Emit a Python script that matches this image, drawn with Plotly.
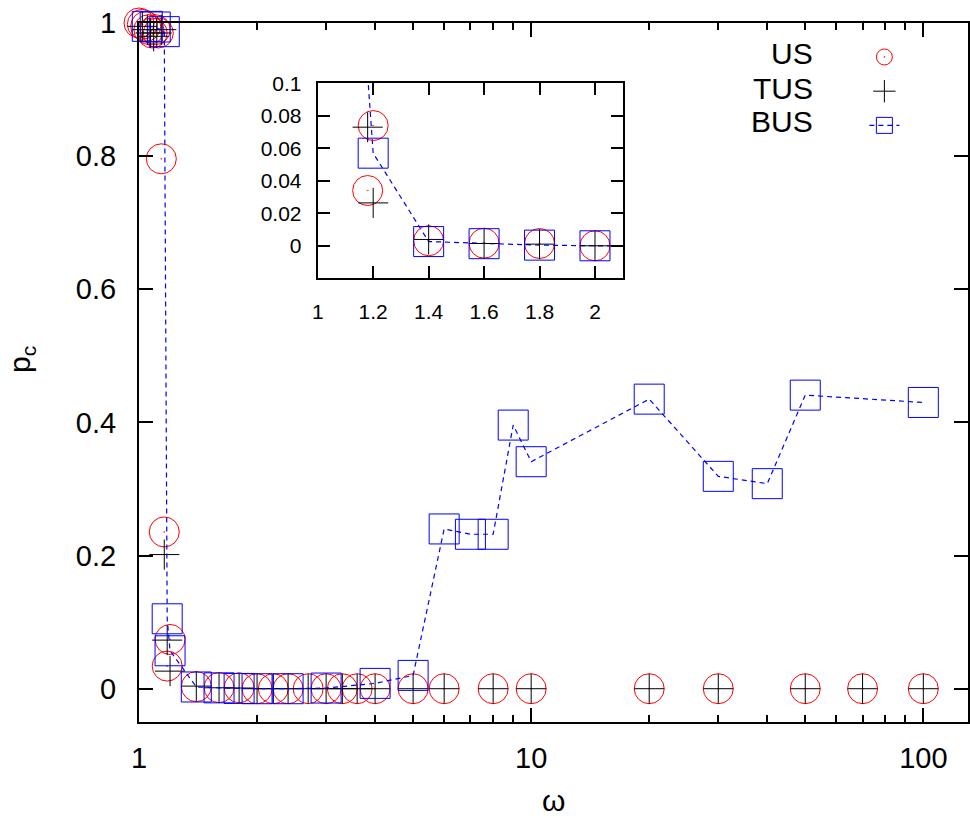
import math
import plotly.graph_objects as go

# ---------------- data ----------------
us_x = [1.0, 1.02, 1.04, 1.06, 1.08, 1.1, 1.12, 1.14, 1.16, 1.18, 1.2,
        1.4, 1.6, 1.8, 2.0, 2.2, 2.4, 2.7, 3.0, 3.3, 3.6, 4.0,
        5, 6, 8, 10, 20, 30, 50, 70, 100]
us_y = [1.0, 0.998, 0.995, 0.99, 0.985, 0.99, 0.985, 0.796, 0.2355, 0.034, 0.074,
        0.0031, 0.0016, 0.0014, 0.0, 0.0, 0.0, 0.0, 0.0, 0.0, 0.0, 0.0,
        0.0, 0.0, 0.0, 0.0, 0.0, 0.0, 0.0, 0.0, 0.0]

tus_x = [1.02, 1.05, 1.07, 1.09, 1.11, 1.14, 1.16, 1.18, 1.2,
         1.4, 1.6, 1.8, 2.0, 2.2, 2.4, 2.7, 3.0, 3.3, 3.6, 4.0,
         5, 6, 8, 10, 20, 30, 50, 70, 100]
tus_y = [0.995, 0.99, 0.985, 0.98, 0.985, 0.99, 0.2015, 0.073, 0.0264,
         0.0039, 0.0014, 0.001, 0.0, 0.0, 0.0, 0.0, 0.0, 0.0, 0.0, 0.0,
         0.0, 0.0, 0.0, 0.0, 0.0, 0.0, 0.0, 0.0, 0.0]

bus_x = [1.05, 1.1, 1.16, 1.18, 1.2, 1.4, 1.6, 1.8, 2.0, 2.4, 3.0, 4.0,
         5, 6, 7, 8, 9, 10, 20, 30, 40, 50, 100]
bus_y = [0.995, 0.994, 0.987, 0.105, 0.057, 0.0026, 0.0013, 0.0004, 0.0, 0.0, 0.001, 0.008,
         0.020, 0.240, 0.232, 0.232, 0.396, 0.341, 0.435, 0.319, 0.308, 0.441, 0.430]

series_names = ["US", "TUS", "BUS"]

main_xticks = [1, 10, 100]
main_xminor = [2, 3, 4, 5, 6, 7, 8, 9, 20, 30, 40, 50, 60, 70, 80, 90]
main_yticks = [0, 0.2, 0.4, 0.6, 0.8, 1.0]
main_ytext = ["0", "0.2", "0.4", "0.6", "0.8", "1"]
inset_xticks = [1, 1.2, 1.4, 1.6, 1.8, 2.0]
inset_xtext = ["1", "1.2", "1.4", "1.6", "1.8", "2"]
inset_yticks = [0, 0.02, 0.04, 0.06, 0.08, 0.1]
inset_ytext = ["0", "0.02", "0.04", "0.06", "0.08", "0.1"]

INSET_XR = [1.0, 2.1]
INSET_YR = [-0.02, 0.1]

FONT = "Liberation Sans, Arial, sans-serif"


def in_inset(xs, ys):
    px, py = [], []
    for a, b in zip(xs, ys):
        if INSET_XR[0] <= a <= INSET_XR[1] and INSET_YR[0] <= b <= INSET_YR[1]:
            px.append(a)
            py.append(b)
    return px, py


us_marker = dict(symbol="circle-open-dot", size=30, color="#ff0000",
                 line=dict(color="#ff0000", width=1))
tus_marker = dict(symbol="cross-thin-open", size=21.5, color="#000000",
                  line=dict(color="#000000", width=1))
bus_marker = dict(symbol="square-open", size=30, color="#0000ff",
                  line=dict(color="#0000ff", width=1))
bus_line = dict(color="#0000ff", width=1.2, dash="5px,4px")

fig = go.Figure()

# main panel
fig.add_trace(go.Scatter(x=us_x, y=us_y, mode="markers", name=" ",
                         marker=us_marker, cliponaxis=False))
fig.add_trace(go.Scatter(x=tus_x, y=tus_y, mode="markers", name=" ",
                         marker=tus_marker, cliponaxis=False))
fig.add_trace(go.Scatter(x=bus_x, y=bus_y, mode="lines+markers", name=" ",
                         marker=bus_marker, line=bus_line, cliponaxis=False))

# inset
bx_line = [a for a in bus_x if a <= 2.5]
by_line = [b for a, b in zip(bus_x, bus_y) if a <= 2.5]
fig.add_trace(go.Scatter(x=bx_line, y=by_line, mode="lines", line=bus_line,
                         xaxis="x2", yaxis="y2", showlegend=False, cliponaxis=True,
                         hoverinfo="skip"))
ix, iy = in_inset(us_x, us_y)
fig.add_trace(go.Scatter(x=ix, y=iy, mode="markers", marker=us_marker,
                         xaxis="x2", yaxis="y2", showlegend=False, cliponaxis=True))
ix, iy = in_inset(tus_x, tus_y)
fig.add_trace(go.Scatter(x=ix, y=iy, mode="markers", marker=tus_marker,
                         xaxis="x2", yaxis="y2", showlegend=False, cliponaxis=True))
ix, iy = in_inset(bus_x, bus_y)
fig.add_trace(go.Scatter(x=ix, y=iy, mode="markers", marker=bus_marker,
                         xaxis="x2", yaxis="y2", showlegend=False, cliponaxis=True))

axis_common = dict(showline=True, linecolor="black", linewidth=2, mirror="ticks",
                   ticks="inside", tickcolor="black", tickwidth=2,
                   showgrid=False, zeroline=False, automargin=False,
                   ticklabeloverflow="allow")

fig.update_layout(
    width=970, height=818,
    margin=dict(l=139, r=2, t=23, b=96, autoexpand=False),
    paper_bgcolor="white", plot_bgcolor="white",
    font=dict(family=FONT, color="black", size=29),
    xaxis=dict(type="log", range=[0, math.log10(130)], domain=[0, 1],
               tickvals=main_xticks, ticktext=[str(v) for v in main_xticks],
               ticklen=14, tickfont=dict(size=29), ticklabelstandoff=9,
               minor=dict(tickmode="array", tickvals=main_xminor, ticks="inside",
                          ticklen=7, tickwidth=2, tickcolor="black", showgrid=False),
               **axis_common),
    yaxis=dict(range=[-0.05, 1.0], domain=[0, 1],
               tickvals=main_yticks, ticktext=main_ytext,
               ticklen=14, tickfont=dict(size=29), ticklabelstandoff=15,
               **axis_common),
    xaxis2=dict(range=INSET_XR, domain=[0.2156, 0.5835], anchor="y2",
                tickvals=inset_xticks, ticktext=inset_xtext,
                ticklen=12, tickfont=dict(size=21), ticklabelstandoff=14,
                **axis_common),
    yaxis2=dict(range=INSET_YR, domain=[0.6348, 0.9137], anchor="x2",
                tickvals=inset_yticks, ticktext=inset_ytext,
                ticklen=12, tickfont=dict(size=21), ticklabelstandoff=10,
                **axis_common),
    showlegend=True,
    legend=dict(x=0.875, y=0.983, xanchor="left", yanchor="top",
                bgcolor="rgba(0,0,0,0)", font=dict(size=24),
                itemsizing="trace", tracegroupgap=0),
)

annotations = [
    dict(text="ω", x=0.5, y=-0.1116, xref="paper", yref="paper",
         xanchor="center", yanchor="middle", showarrow=False, font=dict(size=30)),
    dict(text="p<sub>c</sub>", x=-0.1411, y=0.518, xref="paper", yref="paper",
         xanchor="center", yanchor="middle", showarrow=False, textangle=-90,
         font=dict(size=30)),
]
legend_y = [0.9557, 0.9056, 0.8584]
for name, yy in zip(series_names, legend_y):
    annotations.append(dict(text=name, x=0.8154, y=yy, xref="paper", yref="paper",
                            xanchor="right", yanchor="middle", showarrow=False,
                            font=dict(size=30)))
fig.update_layout(annotations=annotations)

# remove the browser's default 8px body margin so the figure sits at (0, 0)
fig.write_html("out.html",
               config={"displayModeBar": False},
               post_script="document.body.style.margin='0px';"
                           "document.body.style.padding='0px';")
